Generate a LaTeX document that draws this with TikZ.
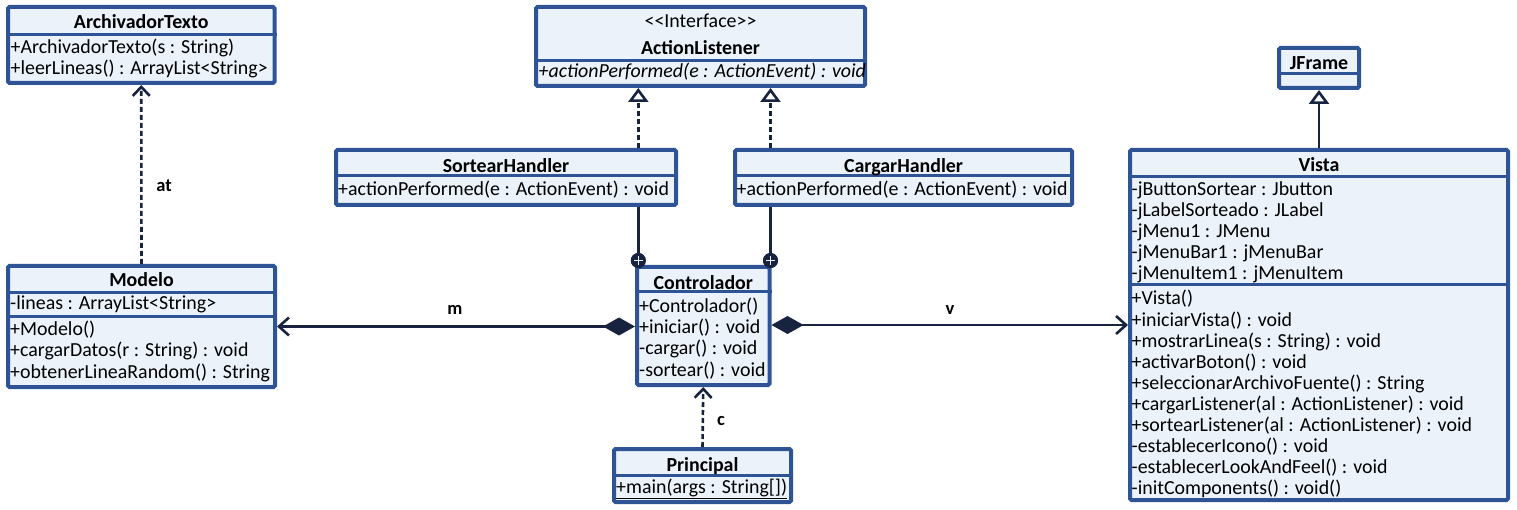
\documentclass[tikz,border=0pt]{standalone}
\usepackage{fontspec}
\setmainfont{Carlito}
\usetikzlibrary{arrows.meta}
\definecolor{bord}{HTML}{2F5496}
\definecolor{fillc}{HTML}{EBF2FA}
\definecolor{conn}{HTML}{17233F}
\newcommand\umllines[5]{\foreach \t [count=\i] in {#5} {\node[item] (#1\i) at (#2,{#3+#4*(\i-1)}) {\t};}}
\begin{document}
\begin{tikzpicture}[x=1pt,y=-1pt,
 box/.style={draw=bord, fill=fillc, line width=4pt, rounded corners=1.5pt, inner sep=0pt, rectangle},
 sep/.style={draw=bord, line width=3pt},
 hdr/.style={font=\bfseries\fontsize{19.9}{21}\selectfont, inner sep=0pt, anchor=base},
 item/.style={font=\fontsize{19.9}{21}\selectfont, inner sep=0pt, anchor=base west},
 lbl/.style={font=\bfseries\fontsize{18.5}{20}\selectfont, inner sep=0pt},
 conline/.style={draw=conn, line width=2.6pt},
 dep/.style={conline, dash pattern=on 5pt off 3pt, -{Straight Barb[length=9pt, width=17pt]}},
 real/.style={conline, dash pattern=on 5pt off 3pt, -{Triangle[open, length=14pt, width=20pt, line width=2.6pt]}},
 inh/.style={conline, -{Triangle[open, length=14pt, width=20pt, line width=2.6pt]}},
 comp/.style={conline, {Diamond[length=32pt, width=18pt]}-{Straight Barb[length=10pt, width=18pt]}},
 nest/.style={circle, fill=conn, minimum size=15pt, inner sep=0pt},
]
\useasboundingbox (0,0) rectangle (1517,510);

% ---------- boxes ----------
\node[box, minimum width=266.5pt, minimum height=76pt] (arch) at (141.25,45) {};
\draw[sep] (arch.west |- 0,34.5) -- (arch.east |- 0,34.5);
\node[hdr] (archh) at (141.25,29) {ArchivadorTexto};
\umllines{archi}{10.5}{53.5}{21}{{+ArchivadorTexto(s : String)},{+leerLineas() : ArrayList<String>}}

\node[box, minimum width=329pt, minimum height=79pt] (al) at (700.5,46.5) {};
\draw[sep] (al.west |- 0,60.5) -- (al.east |- 0,60.5);
\node[inner sep=0pt, anchor=base, font=\fontsize{19.9}{21}\selectfont] (als) at (700.5,28) {{<}{<}Interface{>}{>}};
\node[hdr] (alh) at (700.5,55) {ActionListener};
\node[item, font=\itshape\fontsize{19.9}{21}\selectfont] (ali) at (538.5,78) {+actionPerformed(e : ActionEvent) : void};

\node[box, minimum width=80pt, minimum height=40pt] (jframe) at (1319,68) {};
\draw[sep] (jframe.west |- 0,74) -- (jframe.east |- 0,74);
\node[hdr] (jfh) at (1319,70) {JFrame};

\node[box, minimum width=340pt, minimum height=55pt] (sortear) at (506,177.5) {};
\draw[sep] (sortear.west |- 0,175.5) -- (sortear.east |- 0,175.5);
\node[hdr] (sh) at (506,173) {SortearHandler};
\node[item] (si) at (338,196) {+actionPerformed(e : ActionEvent) : void};

\node[box, minimum width=337pt, minimum height=55pt] (cargar) at (903.5,177.5) {};
\draw[sep] (cargar.west |- 0,175.5) -- (cargar.east |- 0,175.5);
\node[hdr] (ch) at (903.5,173) {CargarHandler};
\node[item] (ci) at (736.5,196) {+actionPerformed(e : ActionEvent) : void};

\node[box, minimum width=378pt, minimum height=350pt] (vista) at (1319,325) {};
\draw[sep] (vista.west |- 0,177) -- (vista.east |- 0,177);
\draw[sep] (vista.west |- 0,285) -- (vista.east |- 0,285);
\node[hdr] (vh) at (1319,172) {Vista};
\umllines{va}{1131.5}{196}{21}{{-jButtonSortear : Jbutton},{-jLabelSorteado : JLabel},{-jMenu1 : JMenu},{-jMenuBar1 : jMenuBar},{-jMenuItem1 : jMenuItem}}
\umllines{vm}{1131.5}{305}{21.1}{{+Vista()},{+iniciarVista() : void},{+mostrarLinea(s : String) : void},{+activarBoton() : void},{+seleccionarArchivoFuente() : String},{+cargarListener(al : ActionListener) : void},{+sortearListener(al : ActionListener) : void},{-establecerIcono() : void},{-establecerLookAndFeel() : void},{-initComponents() : void()}}

\node[box, minimum width=267pt, minimum height=121pt] (modelo) at (141.5,326.5) {};
\draw[sep] (modelo.west |- 0,292.5) -- (modelo.east |- 0,292.5);
\draw[sep] (modelo.west |- 0,317) -- (modelo.east |- 0,317);
\node[hdr] (mh) at (141.5,287) {Modelo};
\node[item] (ma) at (10,310) {-lineas : ArrayList<String>};
\umllines{mm}{10}{335}{21.5}{{+Modelo()},{+cargarDatos(r : String) : void},{+obtenerLineaRandom() : String}}

\node[box, minimum width=132.5pt, minimum height=118pt] (ctrl) at (703.25,326) {};
\draw[sep] (ctrl.west |- 0,292) -- (ctrl.east |- 0,292);
\node[hdr] (cth) at (703.25,290) {Controlador};
\umllines{ctm}{639}{313}{21}{{+Controlador()},{+iniciar() : void},{-cargar() : void},{-sortear() : void}}

\node[box, minimum width=177pt, minimum height=53pt] (principal) at (702.5,475.5) {};
\draw[sep] (principal.west |- 0,475.5) -- (principal.east |- 0,475.5);
\node[hdr] (ph) at (702.5,471) {Principal};
\node[item] (pi) at (616,493) {\underline{+main(args : String[])}};

% ---------- connectors ----------
\draw[dep] (modelo.north) -- (arch.south);
\node[lbl] (lat) at (164,186) {at};

\coordinate (xs) at (638.3,0);
\coordinate (xc) at (770.5,0);
\draw[real] (sortear.north -| xs) -- (al.south -| xs);
\draw[real] (cargar.north -| xc) -- (al.south -| xc);
\draw[inh] (vista.north -| jframe.south) -- (jframe.south);

\node[nest] (op1) at (638.3,260.5) {};
\node[nest] (op2) at (770.5,260.5) {};
\draw[conline] (sortear.south -| op1) -- (op1);
\draw[conline] (cargar.south -| op2) -- (op2);
\node[nest] (op1b) at (op1) {};
\node[nest] (op2b) at (op2) {};
\foreach \n in {op1b,op2b}{
  \draw[fillc, line width=1.3pt] ([xshift=-4.5pt]\n.center) -- ([xshift=4.5pt]\n.center);
  \draw[fillc, line width=1.3pt] ([yshift=-4.5pt]\n.center) -- ([yshift=4.5pt]\n.center);
}

\draw[comp] (ctrl.west |- modelo.east) -- (modelo.east);
\draw[comp] (ctrl.east |- vista.west) -- (vista.west);
\node[lbl] (lm) at (455,310) {m};
\node[lbl] (lv) at (950,310) {v};

\draw[dep] (principal.north) -- (ctrl.south);
\node[lbl] (lc) at (721,421) {c};
\end{tikzpicture}
\end{document}
